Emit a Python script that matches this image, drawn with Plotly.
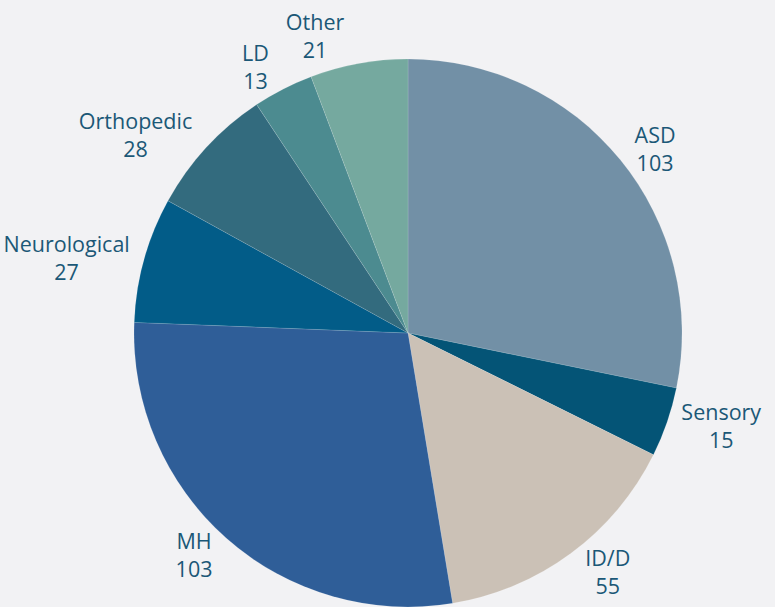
import plotly.graph_objects as go

labels = ["ASD", "Sensory", "ID/D", "MH", "Neurological", "Orthopedic", "LD", "Other"]
values = [103, 15, 55, 103, 27, 28, 13, 21]
colors = ["#7290A6", "#045476", "#CBC1B6", "#2F5E98", "#025C88", "#336B7E", "#4C8B90", "#75A99F"]

W, H = 775, 607
cx, cy, r = 408, 333, 274
domain = dict(x=[(cx - r) / W, (cx + r) / W], y=[(H - cy - r) / H, (H - cy + r) / H])
font = dict(family="Open Sans", size=21.5, color="#1B5877")

# label of the last slice is drawn by an overlaid, transparent copy of the pie
# so that it is not pushed away by its neighbours' labels
main_pos = ["outside"] * (len(labels) - 1) + ["none"]
extra_pos = ["none"] * (len(labels) - 1) + ["outside"]

fig = go.Figure()
fig.add_trace(go.Pie(
    labels=labels, values=values, sort=False, direction="clockwise", rotation=0,
    automargin=False,
    marker=dict(colors=colors, line=dict(color="rgba(255,255,255,0.25)", width=0.5)),
    textposition=main_pos,
    texttemplate="%{label}<br>%{value}",
    textfont=font, outsidetextfont=font,
    domain=domain, showlegend=False, hoverinfo="label+value",
))
fig.add_trace(go.Pie(
    labels=labels, values=values, sort=False, direction="clockwise", rotation=0,
    automargin=False,
    marker=dict(colors=["rgba(0,0,0,0)"] * len(labels), line=dict(width=0)),
    textposition=extra_pos,
    texttemplate="%{label}<br>%{value}",
    textfont=font, outsidetextfont=font,
    domain=domain, showlegend=False, hoverinfo="skip",
))

fig.update_layout(
    width=W, height=H,
    margin=dict(l=0, r=0, t=0, b=0),
    paper_bgcolor="#F2F2F4",
    plot_bgcolor="#F2F2F4",
)

fig.write_html("out.html", config={"displayModeBar": False},
               post_script="document.body.style.margin='0';document.body.style.overflow='hidden';")
